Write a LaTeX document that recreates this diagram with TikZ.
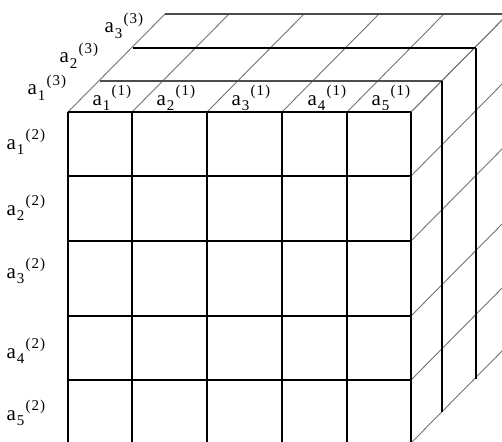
\documentclass[tikz,border=0pt]{standalone}
\usepackage{fontspec}
\setmainfont{Liberation Serif}
\newcommand\lbl[2]{a\kern0.8pt\raisebox{-5.5pt}{\fontsize{15}{15}\selectfont #1}\kern1.2pt\raisebox{9.5pt}{\fontsize{15}{15}\selectfont(\kern1pt#2\kern1pt)}}
\begin{document}
\begin{tikzpicture}[x=1pt,y=-1pt,
  gridline/.style={line width=1.1pt,black},
  thickgrid/.style={line width=1.6pt,black},
  layerside/.style={line width=2pt,black},
  depthline/.style={line width=0.9pt,black!55},
  layerback/.style={line width=1.1pt,black!70},
  lbl/.style={inner sep=0pt,anchor=base west,font=\fontsize{21}{22}\selectfont}]
\useasboundingbox (0,0) rectangle (502,441);
\begin{scope}
\clip (0,0) rectangle (502,441);
% top face diagonals
\foreach \x in {68,132,207,282,347,411}
  \draw[depthline] (\x,112) -- ++(97,-98);
% right face diagonals
\foreach \y in {112,176,241,316,380,443}
  \draw[depthline] (411,\y) -- ++(97,-98);
% layer 1
\coordinate (l1a) at (100,81);
\coordinate (l1b) at (442,81);
\coordinate (l1c) at (442,412);
\draw[layerback] (l1a) -- (l1b);
\draw[layerside] (l1b) -- (l1c);
% layer 2
\coordinate (l2a) at (133,48);
\coordinate (l2b) at (476,48);
\coordinate (l2c) at (476,379);
\draw[thickgrid] (l2a) -- (l2b);
\draw[layerside] (l2b) -- (l2c);
% layer 3
\coordinate (l3a) at (165,14);
\coordinate (l3b) at (508,14);
\coordinate (l3c) at (508,345);
\draw[layerback,line width=1.4pt] (l3a) -- (l3b) -- (l3c);
% front face
\foreach \x in {68,132,282,347}
  \draw[gridline] (\x,112) -- (\x,443);
\foreach \x in {207,411}
  \draw[thickgrid] (\x,112) -- (\x,443);
\foreach \y in {112,316,380,443}
  \draw[gridline] (68,\y) -- (411,\y);
\foreach \y in {176,241}
  \draw[thickgrid] (68,\y) -- (411,\y);
\end{scope}
% labels on top (a^(1))
\node[lbl] (t1) at (92.5,105) {\lbl{1}{1}};
\node[lbl] (t2) at (156.5,105) {\lbl{2}{1}};
\node[lbl] (t3) at (231.5,105) {\lbl{3}{1}};
\node[lbl] (t4) at (307.5,105) {\lbl{4}{1}};
\node[lbl] (t5) at (371.5,105) {\lbl{5}{1}};
% labels on left (a^(2))
\node[lbl] (l1) at (6.5,149) {\lbl{1}{2}};
\node[lbl] (l2) at (6.5,215) {\lbl{2}{2}};
\node[lbl] (l3) at (6.5,278) {\lbl{3}{2}};
\node[lbl] (l4) at (6.5,358) {\lbl{4}{2}};
\node[lbl] (l5) at (6.5,420) {\lbl{5}{2}};
% depth labels (a^(3))
\node[lbl] (d1) at (27.5,95) {\lbl{1}{3}};
\node[lbl] (d2) at (59.5,63) {\lbl{2}{3}};
\node[lbl] (d3) at (104.5,33) {\lbl{3}{3}};
\end{tikzpicture}
\end{document}
